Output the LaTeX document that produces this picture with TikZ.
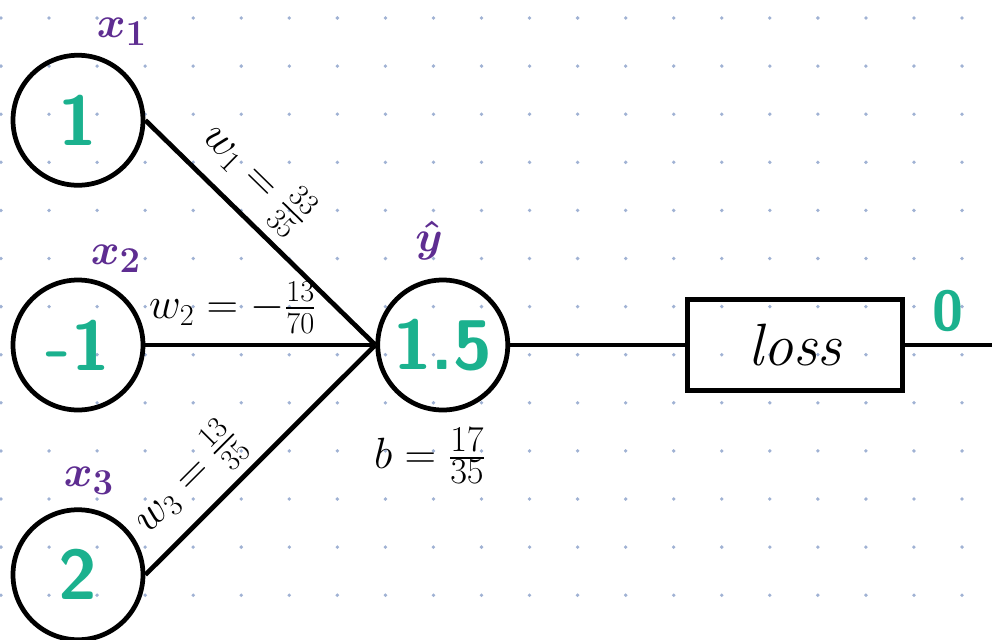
\documentclass[tikz,border=0pt]{standalone}
\usepackage{amsmath}
\usepackage{xcolor}
\usetikzlibrary{positioning}
\definecolor{valgreen}{RGB}{27,177,142}
\definecolor{varpurple}{RGB}{94,45,145}
\definecolor{dotgray}{RGB}{160,178,212}

\begin{document}
\begin{tikzpicture}[
    node distance=1.8cm and 4.66cm,
    neuron/.style={draw,circle,line width=2.7pt,minimum size=2.6cm,inner sep=0pt,text=valgreen,font=\sffamily\bfseries\fontsize{40}{44}\selectfont},
    lossbox/.style={draw,line width=2.7pt,minimum width=4.3cm,minimum height=1.82cm,font=\itshape\fontsize{34}{38}\selectfont},
    wire/.style={line width=2.7pt},
    var/.style={text=varpurple,font=\boldmath\fontsize{32}{36}\selectfont},
    wlabel/.style={font=\fontsize{24}{28}\selectfont,inner sep=2pt,sloped,above=3pt}
  ]
    \useasboundingbox (0,0) rectangle (19.84,-12.78);
    % dotted paper
    \foreach \i in {0,...,20}
      \foreach \j in {0,...,12}
        \fill[dotgray] (0.02+\i*0.961,-0.36-\j*0.962) circle (0.038);

    \node[neuron] (x2) at (1.56,-6.9) {-1};
    \node[neuron,above=1.8cm of x2] (x1) {1};
    \node[neuron,below=1.9cm of x2] (x3) {2};
    \node[neuron,right=4.6cm of x2] (yhat) {1.5};
    \node[lossbox,right=3.5cm of yhat] (loss) {loss};
    \coordinate (lossout) at (19.84,-6.9);

    \node[var] (lx1) at (2.44,-0.64) {$x_1$};
    \node[var] (lx2) at (2.32,-5.18) {$x_2$};
    \node[var] (lx3) at (1.78,-9.62) {$x_3$};
    \node[var,font=\boldmath\fontsize{36}{40}\selectfont] (lyhat) at (8.58,-4.82) {$\hat{y}$};
    \node[font=\fontsize{30}{34}\selectfont] (bias) at (8.6,-9.12) {$b=\frac{17}{35}$};

    \draw[wire] (x1.east) -- node[wlabel,pos=0.37] {$w_1=\frac{33}{35}$} (yhat.west);
    \draw[wire] (x2.east) -- node[wlabel,pos=0.38] {$w_2=-\frac{13}{70}$} (yhat.west);
    \draw[wire] (x3.east) -- node[wlabel,pos=0.3] {$w_3=\frac{13}{35}$} (yhat.west);
    \draw[wire] (yhat) -- (loss);
    \draw[wire] (loss) -- node[above=0.15cm,inner sep=2pt,text=valgreen,font=\sffamily\bfseries\fontsize{32}{36}\selectfont] {0} (lossout);
  \end{tikzpicture}
\end{document}
